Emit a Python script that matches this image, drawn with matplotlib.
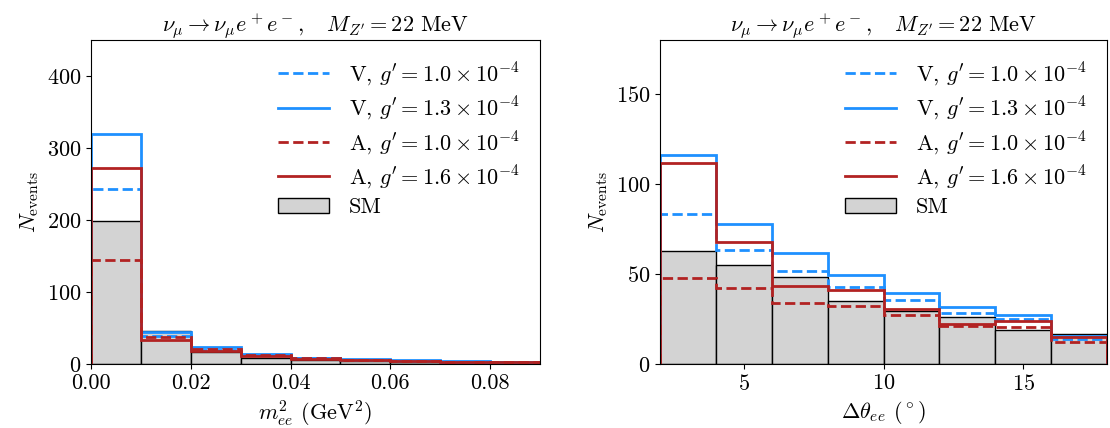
import numpy as np
import matplotlib
matplotlib.use('Agg')
import matplotlib.pyplot as plt

plt.rcParams['font.family'] = 'serif'
plt.rcParams['font.serif'] = ['cmr10']
plt.rcParams['mathtext.fontset'] = 'cm'
plt.rcParams['axes.formatter.use_mathtext'] = True
plt.rcParams['font.size'] = 16

# m_ee^2 bins
m_edges = [0.00, 0.01, 0.02, 0.03, 0.04, 0.05, 0.06, 0.07, 0.08, 0.09]
m_sm = [198, 46, 16, 9, 6, 4, 3, 2, 2]
m_v10 = [243, 39, 20, 12, 8, 6, 4, 3, 3]
m_v13 = [320, 44, 23, 14, 9, 7, 5, 4, 3]
m_a10 = [144, 38, 21, 12, 8, 6, 4, 3, 3]
m_a16 = [272, 34, 18, 11, 7, 6, 4, 3, 3]

# opening angle bins
t_edges = [2, 4, 6, 8, 10, 12, 14, 16, 18]
t_sm = [63, 55, 48.5, 35, 29.5, 26, 19, 16.5]
t_v10 = [83.5, 63.5, 51.5, 43, 35.3, 28.5, 25, 14]
t_v13 = [116, 78, 61.5, 49.5, 39.7, 31.5, 27.5, 15.5]
t_a10 = [48, 42.5, 34, 32.5, 27, 21, 20.5, 12]
t_a16 = [111.5, 68, 43.5, 41, 30.4, 22.2, 24, 15.2]

blue = '#1E90FF'
red = '#B22222'
title = r'$\nu_\mu \to \nu_\mu e^+e^-,\quad M_{Z^\prime} = 22$ MeV'

fig = plt.figure(figsize=(11.1, 4.28), dpi=100)
ax1 = fig.add_axes([0.082, 0.1495, 0.4045, 0.757])
ax2 = fig.add_axes([0.5946, 0.1495, 0.4027, 0.757])


def draw(ax, edges, sm, v10, v13, a10, a16):
    ax.stairs(v10, edges, color=blue, ls='--', lw=2, label=r'V, $g^\prime = 1.0\times10^{-4}$')
    ax.stairs(v13, edges, color=blue, lw=2, label=r'V, $g^\prime = 1.3\times10^{-4}$')
    ax.stairs(a10, edges, color=red, ls='--', lw=2, label=r'A, $g^\prime = 1.0\times10^{-4}$')
    ax.stairs(a16, edges, color=red, lw=2, label=r'A, $g^\prime = 1.6\times10^{-4}$')
    centers = [(edges[i] + edges[i + 1]) / 2 for i in range(len(sm))]
    widths = [edges[i + 1] - edges[i] for i in range(len(sm))]
    ax.bar(centers, sm, width=widths, color='lightgray', edgecolor='black', lw=1,
           label='SM', zorder=0.5)
    ax.set_xlim(edges[0], edges[-1])
    ax.set_ylabel(r'$N_\mathrm{events}$')
    ax.set_title(title, fontsize=16)
    h, l = ax.get_legend_handles_labels()
    ax.legend(h, l, loc='upper right', frameon=False, handlelength=2.3,
              labelspacing=0.3, handletextpad=0.9)


draw(ax1, m_edges, m_sm, m_v10, m_v13, m_a10, m_a16)
ax1.set_ylim(0, 450)
ax1.set_yticks([0, 100, 200, 300, 400])
ax1.set_xticks([0.00, 0.02, 0.04, 0.06, 0.08])
ax1.set_xticklabels(['0.00', '0.02', '0.04', '0.06', '0.08'])
ax1.set_xlabel(r'$m_{ee}^2$ (GeV$^2$)')

draw(ax2, t_edges, t_sm, t_v10, t_v13, t_a10, t_a16)
ax2.set_ylim(0, 180)
ax2.set_yticks([0, 50, 100, 150])
ax2.set_xticks([5, 10, 15])
ax2.set_xlabel(r'$\Delta\theta_{ee}$ ($^\circ$)')

fig.savefig('out.png', dpi=100)
